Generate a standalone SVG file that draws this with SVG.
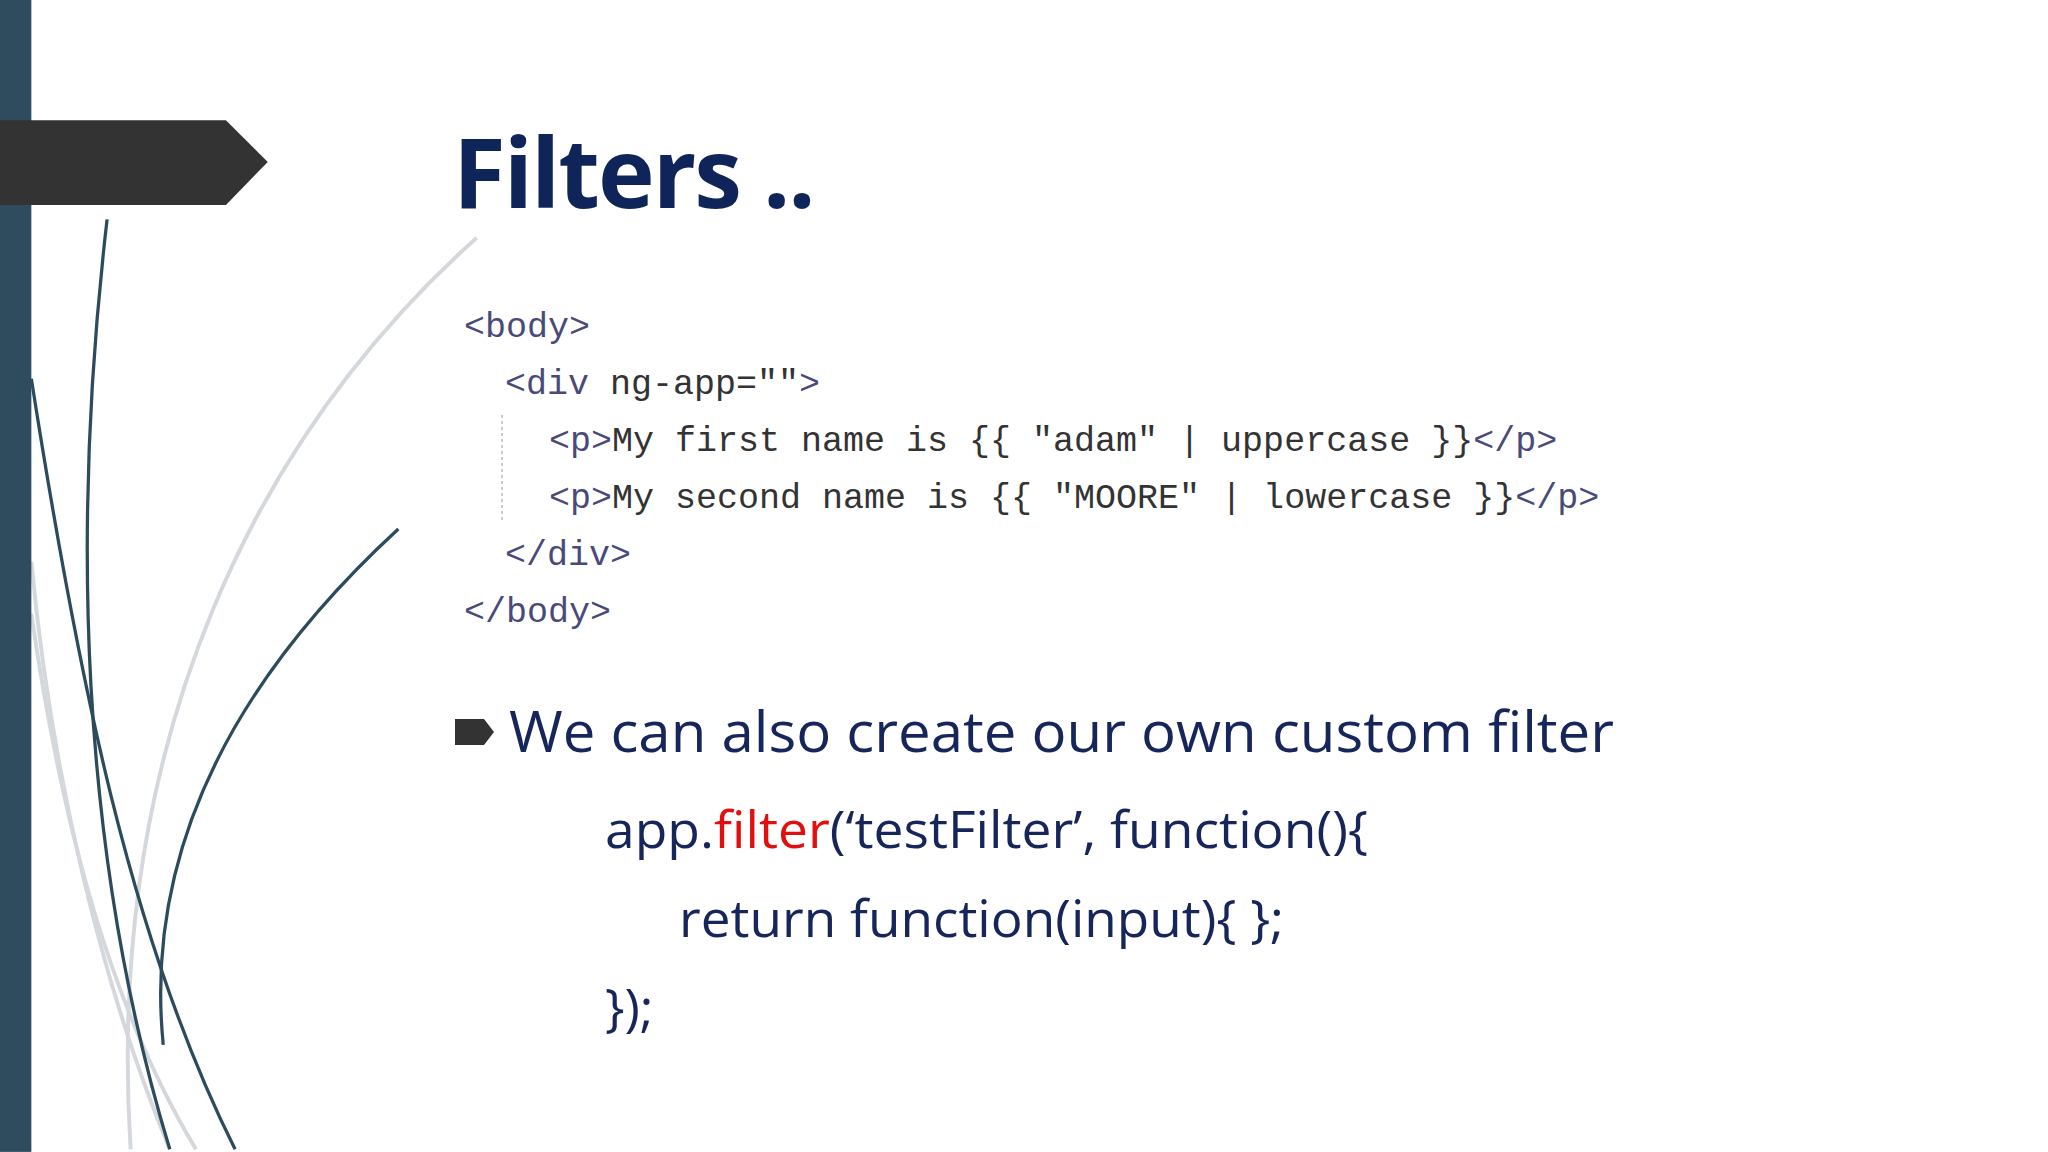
<svg xmlns="http://www.w3.org/2000/svg" width="2048" height="1152" viewBox="0 0 2048 1152">
<style>
.code{font-family:"Liberation Mono","DejaVu Sans Mono",monospace;font-size:35px;fill:#333}
.tag{fill:#4a4a7a}
.txt{font-family:"Open Sans","Liberation Sans",sans-serif;fill:#16255a}
.dk{fill:none;stroke:#2c4b5c;stroke-width:2.5}
.lt{fill:none;stroke:#d4d8dc;stroke-width:3}
</style>
<rect width="2048" height="1152" fill="#fff"/>
<g id="decor" transform="scale(1.306)">
<path class="lt" d="M365,182 C200,330 80,560 100,880"/>
<path class="lt" d="M24,430 C40,600 80,760 130,880"/>
<path class="lt" d="M24,470 C50,650 90,780 150,880"/>
<path class="dk" d="M82,168 C55,400 60,650 130,880"/>
<path class="dk" d="M24,290 C60,520 100,720 180,880"/>
<path class="dk" d="M305,405 C180,520 110,650 125,800"/>
<rect x="0" y="0" width="24" height="882" fill="#2e4c5e"/>
<polygon points="0,92 173,92 205,124 173,157 0,157" fill="#333"/>
</g>
<g id="title"><text x="453" y="208" font-family="Open Sans,Liberation Sans,sans-serif" font-weight="bold" font-size="96" fill="#0f2459" letter-spacing="-2">Filters ..</text></g>
<g id="html-code" class="code">
<text x="464" y="337"><tspan class="tag">&lt;body&gt;</tspan></text>
<text x="505" y="394"><tspan class="tag">&lt;div</tspan> ng-app=""<tspan class="tag">&gt;</tspan></text>
<text x="549" y="451"><tspan class="tag">&lt;p&gt;</tspan>My first name is {{ "adam" | uppercase }}<tspan class="tag">&lt;/p&gt;</tspan></text>
<text x="549" y="508"><tspan class="tag">&lt;p&gt;</tspan>My second name is {{ "MOORE" | lowercase }}<tspan class="tag">&lt;/p&gt;</tspan></text>
<text x="505" y="565"><tspan class="tag">&lt;/div&gt;</tspan></text>
<text x="464" y="622"><tspan class="tag">&lt;/body&gt;</tspan></text>
<line x1="502" y1="415" x2="502" y2="522" stroke="#bbb" stroke-width="1.5" stroke-dasharray="3,3"/>
</g>
<g id="bullet">
<polygon points="455,719 484,719 494,732 484,745 455,745" fill="#333"/>
<text class="txt" x="509" y="752" font-size="56" textLength="1105" lengthAdjust="spacingAndGlyphs">We can also create our own custom filter</text>
</g>
<g id="js-code" class="txt" font-size="52">
<text x="605" y="848" textLength="763" lengthAdjust="spacingAndGlyphs">app.<tspan fill="#e01010">filter</tspan>(‘testFilter’, function(){</text>
<text x="679" y="937" textLength="605" lengthAdjust="spacingAndGlyphs">return function(input){  };</text>
<text x="605" y="1026">});</text>
</g>
</svg>
